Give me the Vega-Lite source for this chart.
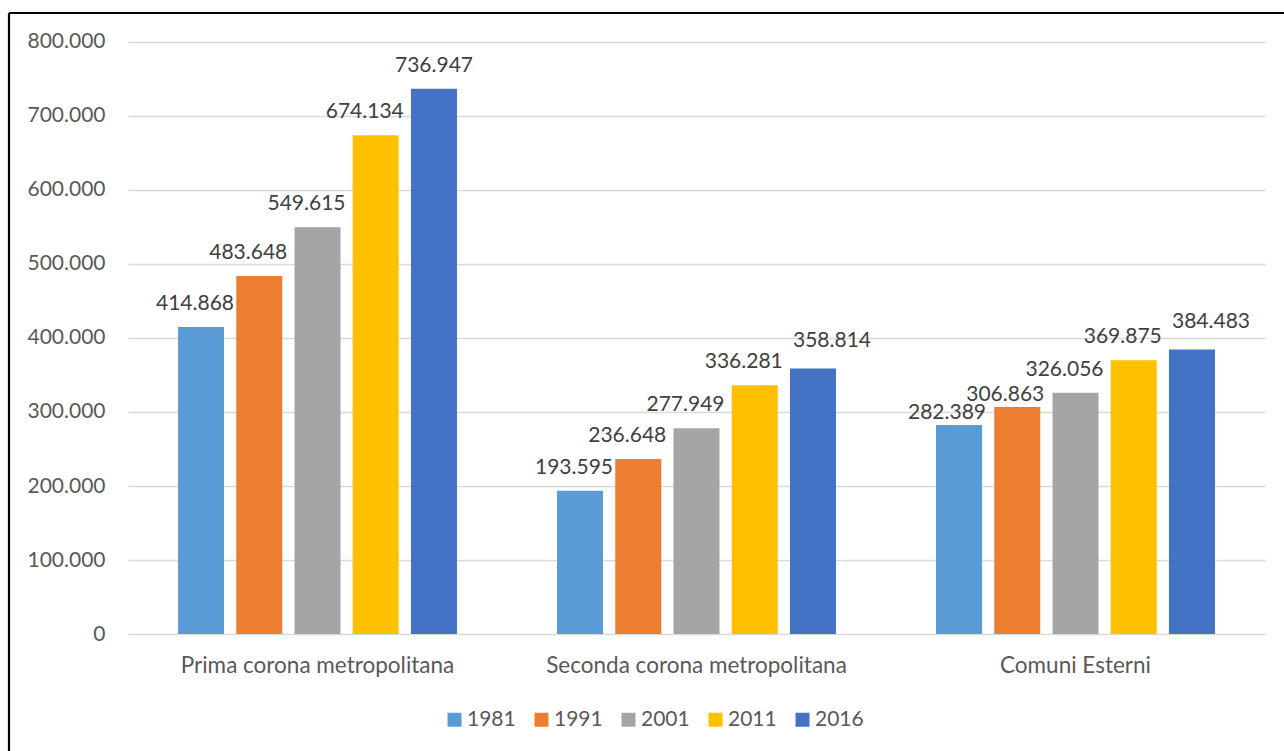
{
  "$schema": "https://vega.github.io/schema/vega-lite/v6.json",
  "width": 1275,
  "height": 738,
  "autosize": {"type": "none"},
  "padding": {"left": 9, "top": 13, "right": 0, "bottom": 0},
  "background": "white",
  "config": {
    "view": {"stroke": "black", "strokeWidth": 2.2, "strokeDash": [1275, 2013, 738, 0]},
    "font": "Lato",
    "locale": {"number": {"decimal": ",", "thousands": ".", "grouping": [3], "currency": ["€", ""]}}
  },
  "data": {
    "values": [
      {"zona": "Prima corona metropolitana", "anno": "1981", "valore": 414868},
      {"zona": "Prima corona metropolitana", "anno": "1991", "valore": 483648},
      {"zona": "Prima corona metropolitana", "anno": "2001", "valore": 549615},
      {"zona": "Prima corona metropolitana", "anno": "2011", "valore": 674134},
      {"zona": "Prima corona metropolitana", "anno": "2016", "valore": 736947},
      {"zona": "Seconda corona metropolitana", "anno": "1981", "valore": 193595},
      {"zona": "Seconda corona metropolitana", "anno": "1991", "valore": 236648},
      {"zona": "Seconda corona metropolitana", "anno": "2001", "valore": 277949},
      {"zona": "Seconda corona metropolitana", "anno": "2011", "valore": 336281},
      {"zona": "Seconda corona metropolitana", "anno": "2016", "valore": 358814},
      {"zona": "Comuni Esterni", "anno": "1981", "valore": 282389},
      {"zona": "Comuni Esterni", "anno": "1991", "valore": 306863},
      {"zona": "Comuni Esterni", "anno": "2001", "valore": 326056},
      {"zona": "Comuni Esterni", "anno": "2011", "valore": 369875},
      {"zona": "Comuni Esterni", "anno": "2016", "valore": 384483}
    ]
  },
  "encoding": {
    "x": {
      "field": "zona",
      "type": "nominal",
      "sort": ["Prima corona metropolitana", "Seconda corona metropolitana", "Comuni Esterni"],
      "scale": {"range": [119, 1256], "paddingInner": 0.264, "paddingOuter": 0.132},
      "axis": {
        "orient": "bottom",
        "offset": -117,
        "domain": false,
        "ticks": false,
        "tickSize": 0,
        "grid": false,
        "labelPadding": 38,
        "labelBaseline": "alphabetic",
        "labelAngle": 0,
        "labelLimit": 0,
        "labelFontSize": 22.5,
        "labelFont": "Lato",
        "labelColor": "#595959",
        "title": null
      }
    },
    "xOffset": {
      "field": "anno",
      "type": "nominal",
      "sort": ["1981", "1991", "2001", "2011", "2016"],
      "scale": {"paddingInner": 0.21, "paddingOuter": 0}
    },
    "y": {
      "field": "valore",
      "type": "quantitative",
      "scale": {"domain": [-158108, 839189], "nice": false, "zero": false},
      "axis": {
        "values": [0, 100000, 200000, 300000, 400000, 500000, 600000, 700000, 800000],
        "format": ",.0f",
        "offset": -119,
        "domain": false,
        "ticks": false,
        "tickSize": 0,
        "labelPadding": 23,
        "labelFontSize": 21,
        "labelFont": "Lato",
        "labelColor": "#595959",
        "grid": true,
        "gridColor": "#d9d9d9",
        "gridWidth": 1.5,
        "title": null
      }
    }
  },
  "layer": [
    {
      "mark": {"type": "bar"},
      "encoding": {
        "y2": {"datum": 0},
        "color": {
          "field": "anno",
          "type": "nominal",
          "scale": {"domain": ["1981", "1991", "2001", "2011", "2016"], "range": ["#5B9BD5", "#ED7D31", "#A5A5A5", "#FFC000", "#4472C4"]},
          "legend": {
            "orient": "none",
            "legendX": 435,
            "legendY": 696,
            "direction": "horizontal",
            "columns": 5,
            "title": null,
            "symbolType": "square",
            "symbolSize": 196,
            "symbolStrokeWidth": 0,
            "symbolOpacity": 1,
            "labelFontSize": 21,
            "labelFont": "Lato",
            "labelColor": "#595959",
            "columnPadding": 15,
            "labelOffset": 2,
            "padding": 0
          }
        }
      }
    },
    {
      "transform": [{"filter": "datum.anno == '1981' && datum.zona != 'Comuni Esterni'"}],
      "mark": {"type": "text", "dx": -6, "dy": -17, "baseline": "alphabetic", "fontSize": 21, "font": "Lato", "color": "#404040"},
      "encoding": {"text": {"field": "valore", "type": "quantitative", "format": ",.0f"}}
    },
    {
      "transform": [{"filter": "(datum.anno == '1991' || datum.anno == '2001' || datum.anno == '2011') && !(datum.anno == '1991' && datum.zona == 'Comuni Esterni')"}],
      "mark": {"type": "text", "dx": -11, "dy": -17, "baseline": "alphabetic", "fontSize": 21, "font": "Lato", "color": "#404040"},
      "encoding": {"text": {"field": "valore", "type": "quantitative", "format": ",.0f"}}
    },
    {
      "transform": [{"filter": "datum.zona == 'Comuni Esterni' && (datum.anno == '1981' || datum.anno == '1991')"}],
      "mark": {"type": "text", "dx": -12, "dy": -6, "baseline": "alphabetic", "fontSize": 21, "font": "Lato", "color": "#404040"},
      "encoding": {"text": {"field": "valore", "type": "quantitative", "format": ",.0f"}}
    },
    {
      "transform": [{"filter": "datum.anno == '2016' && datum.zona == 'Prima corona metropolitana'"}],
      "mark": {"type": "text", "dy": -17, "baseline": "alphabetic", "fontSize": 21, "font": "Lato", "color": "#404040"},
      "encoding": {"text": {"field": "valore", "type": "quantitative", "format": ",.0f"}}
    },
    {
      "transform": [{"filter": "datum.anno == '2016' && datum.zona != 'Prima corona metropolitana'"}],
      "mark": {"type": "text", "dx": 19, "dy": -21, "baseline": "alphabetic", "fontSize": 21, "font": "Lato", "color": "#404040"},
      "encoding": {"text": {"field": "valore", "type": "quantitative", "format": ",.0f"}}
    }
  ]
}
